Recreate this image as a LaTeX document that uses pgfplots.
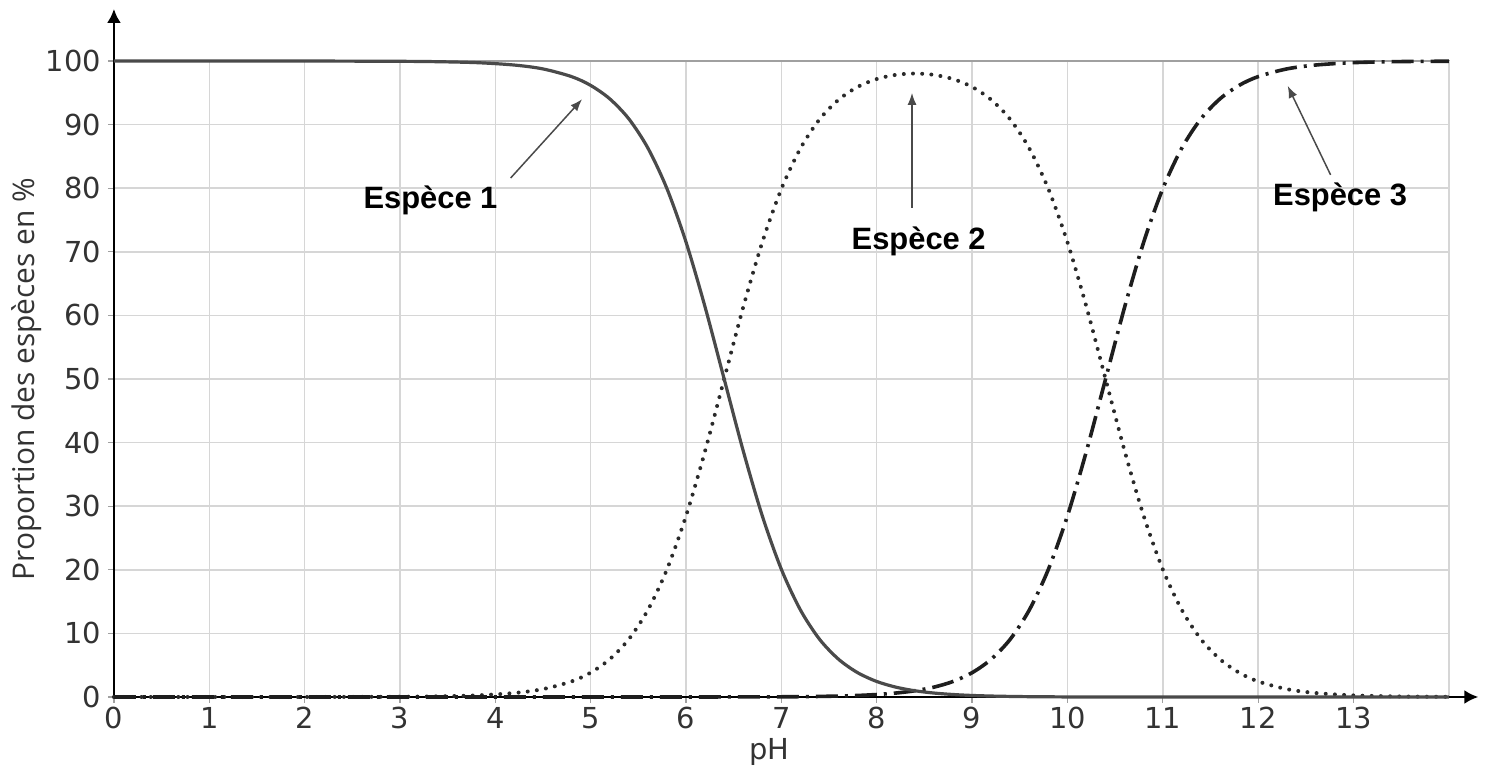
\documentclass[border=0pt]{standalone}
\usepackage{fontspec}
\setmainfont{DejaVu Sans}
\newfontfamily\opensans{Open Sans}
\newfontfamily\arialb{Liberation Sans}
\usepackage{pgfplots}
\usepackage{pgfplotstable}
\pgfplotsset{compat=1.18}
\usetikzlibrary{arrows.meta}
\definecolor{gridc}{HTML}{D6D6D6}
\definecolor{framec}{HTML}{A0A0A0}
\definecolor{tickc}{HTML}{333333}
\definecolor{c1}{HTML}{4A4A4A}
\definecolor{c2}{HTML}{2A2A2A}
\definecolor{c3}{HTML}{1E1E1E}

\pgfplotstableread{
pH    e1     e2     e3
0.0   100.00 0.00   0.00
1.0   100.00 0.00   0.00
2.0   100.00 0.00   0.00
2.8   99.97  0.03   0.00
3.3   99.92  0.08   0.00
3.8   99.75  0.25   0.00
4.2   99.37  0.63   0.00
4.5   98.76  1.24   0.00
4.8   97.55  2.45   0.00
5.0   96.17  3.83   0.00
5.2   94.06  5.94   0.00
5.4   90.91  9.09   0.00
5.6   86.32  13.68  0.00
5.8   79.93  20.07  0.00
6.0   71.53  28.47  0.00
6.2   61.31  38.69  0.00
6.4   50.00  50.00  0.01
6.6   38.69  61.31  0.01
6.8   28.47  71.52  0.01
7.0   20.07  79.90  0.03
7.2   13.68  86.27  0.05
7.4   9.08   90.83  0.09
7.6   5.93   93.92  0.15
7.8   3.82   95.94  0.24
8.0   2.44   97.17  0.39
8.2   1.55   97.83  0.62
8.4   0.98   98.04  0.98
8.6   0.62   97.83  1.55
8.8   0.39   97.17  2.44
9.0   0.24   95.94  3.82
9.2   0.15   93.92  5.93
9.4   0.09   90.83  9.08
9.6   0.05   86.27  13.68
9.8   0.03   79.90  20.07
10.0  0.01   71.52  28.47
10.2  0.01   61.31  38.69
10.4  0.01   50.00  50.00
10.6  0.00   38.69  61.31
10.8  0.00   28.47  71.53
11.0  0.00   20.07  79.93
11.2  0.00   13.68  86.32
11.4  0.00   9.09   90.91
11.6  0.00   5.94   94.06
11.8  0.00   3.83   96.17
12.0  0.00   2.45   97.55
12.3  0.00   1.24   98.76
12.6  0.00   0.63   99.37
13.0  0.00   0.25   99.75
13.5  0.00   0.08   99.92
14.0  0.00   0.03   99.97
}\data

\begin{document}
\begin{tikzpicture}
\begin{axis}[
  scale only axis,
  width=667.5bp, height=318bp,
  xmin=0, xmax=14, ymin=0, ymax=100,
  xtick={0,...,13},
  ytick={0,10,...,100},
  extra x ticks={14}, extra x tick labels={},
  extra x tick style={grid=major, major tick length=0pt},
  grid=major,
  major grid style={gridc, line width=0.75bp},
  axis line style={framec, line width=0.9bp},
  tick style={framec, line width=0.6bp},
  major tick length=3bp,
  tick align=outside,
  xtick pos=bottom, ytick pos=left,
  ticklabel style={font=\fontsize{14.5}{16}\selectfont, text=tickc},
  xticklabel style={inner sep=2pt},
  /pgf/number format/assume math mode=true,
  xlabel={pH},
  xlabel style={at={(rel axis cs:0.491,-0.087)}, anchor=center, inner sep=0pt, font=\fontsize{14.5}{16}\selectfont, text=tickc},
  ylabel={\opensans Proportion des espèces en \%},
  ylabel style={at={(rel axis cs:-0.0651,0.5)}, anchor=center, font=\fontsize{15}{17}\selectfont, text=tickc},
  clip=false,
  axis on top=false,
]
% axes arrows
\draw[black, line width=1.3bp, -{Latex[length=7bp,width=7bp]}] (axis cs:0,0) -- (axis cs:0,108.2);
\draw[black, line width=1.3bp, -{Latex[length=7bp,width=7bp]}] (axis cs:0,0) -- (axis cs:14.31,0);

\addplot[c2, line width=2bp, line cap=round, dash pattern=on 0bp off 4.6bp, smooth] table[x=pH, y=e2] {\data};
\addplot[c3, line width=1.8bp, dash pattern=on 11bp off 3.5bp on 1.5bp off 3.5bp, smooth] table[x=pH, y=e3] {\data};
\addplot[c1, line width=1.6bp, smooth] table[x=pH, y=e1] {\data};

% annotations
\draw[c1, line width=0.75bp, -{Latex[length=6bp,width=4.5bp]}] (axis cs:4.16,81.6) -- (axis cs:4.91,94.0);
\draw[c1, line width=0.75bp, -{Latex[length=6bp,width=4.5bp]}] (axis cs:8.37,76.9) -- (axis cs:8.37,95.0);
\draw[c1, line width=0.75bp, -{Latex[length=6bp,width=4.5bp]}] (axis cs:12.76,82.1) -- (axis cs:12.31,96.1);
\node[font=\arialb\bfseries\fontsize{15.5}{17}\selectfont] at (axis cs:3.32,78.1) {Espèce 1};
\node[font=\arialb\bfseries\fontsize{15.5}{17}\selectfont] at (axis cs:8.44,71.7) {Espèce 2};
\node[font=\arialb\bfseries\fontsize{15.5}{17}\selectfont] at (axis cs:12.86,78.6) {Espèce 3};

\coordinate (bl) at (axis cs:-1.195,-11.0);
\coordinate (tr) at (axis cs:14.39,109.6);
\end{axis}
\pgfresetboundingbox
\useasboundingbox (bl) rectangle (tr);
\end{tikzpicture}
\end{document}
